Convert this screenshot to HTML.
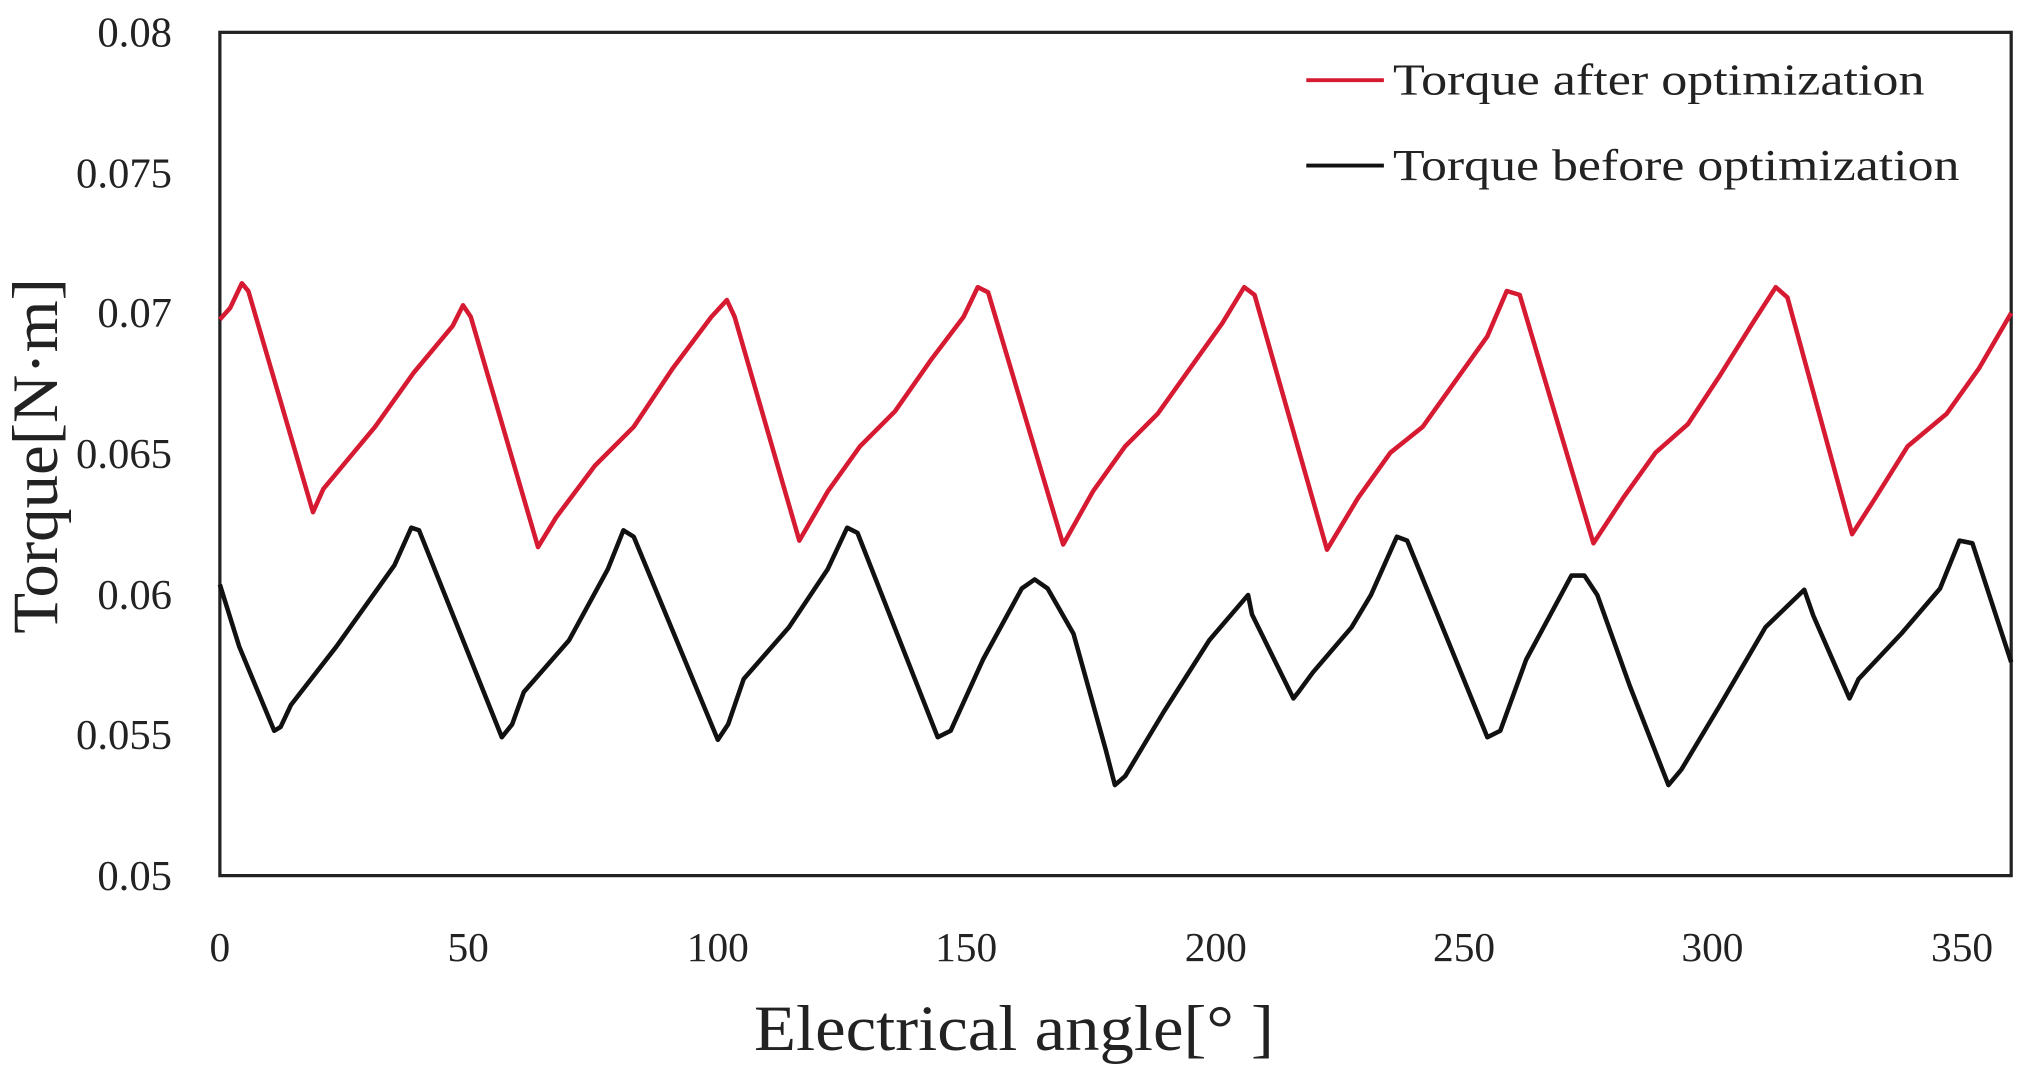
<!DOCTYPE html>
<html><head><meta charset="utf-8"><style>
html,body{margin:0;padding:0;background:#fff;}
svg{display:block;}
text{font-family:"Liberation Serif",serif;fill:#222;}
</style></head><body>
<svg width="2028" height="1090" viewBox="0 0 1568 842.75" preserveAspectRatio="none">
<rect x="170" y="25" width="1385" height="652" fill="none" stroke="#222" stroke-width="2.5"/>
<g font-size="33" text-anchor="end">
<text x="133" y="36">0.08</text>
<text x="133" y="145">0.075</text>
<text x="133" y="253">0.07</text>
<text x="133" y="362">0.065</text>
<text x="133" y="471">0.06</text>
<text x="133" y="579">0.055</text>
<text x="133" y="688">0.05</text>
</g>
<g font-size="32" text-anchor="middle">
<text x="170" y="743">0</text>
<text x="362" y="743">50</text>
<text x="555" y="743">100</text>
<text x="747" y="743">150</text>
<text x="940" y="743">200</text>
<text x="1132" y="743">250</text>
<text x="1324" y="743">300</text>
<text x="1517" y="743">350</text>
</g>
<text x="583" y="812" font-size="50" textLength="402" lengthAdjust="spacingAndGlyphs">Electrical angle[°  ]</text>
<text transform="translate(44,490) rotate(-90)" font-size="50" textLength="275" lengthAdjust="spacingAndGlyphs">Torque[N·m]</text>
<line x1="1010" y1="62" x2="1070" y2="62" stroke="#d61a32" stroke-width="3"/>
<text x="1077" y="73" font-size="34" textLength="411" lengthAdjust="spacingAndGlyphs">Torque after optimization</text>
<line x1="1010" y1="128" x2="1070" y2="128" stroke="#111" stroke-width="3"/>
<text x="1077" y="139" font-size="34" textLength="438" lengthAdjust="spacingAndGlyphs">Torque before optimization</text>
<polyline fill="none" stroke="#d61a32" stroke-width="3.5" stroke-linejoin="round" points="170,247 178,238 187,219 192,225 242,396 250,378 290,330 320,288 350,252 358,236 364,245 416,423 430,400 460,360 490,330 520,285 550,245 562,232 568,245 618,418 640,380 665,345 692,318 720,278 745,245 756,222 764,226 822,421 845,380 870,345 895,320 920,285 945,250 962,222 970,228 1026,425 1050,385 1075,350 1100,330 1125,295 1150,260 1165,225 1175,228 1232,420 1255,385 1280,350 1305,328 1330,290 1355,250 1373,222 1382,230 1432,413 1450,385 1475,345 1505,320 1530,285 1555,242"/>
<polyline fill="none" stroke="#111" stroke-width="3.5" stroke-linejoin="round" points="170,452 185,500 212,565 217,562 225,545 260,500 305,437 318,408 324,410 388,570 396,560 405,535 440,495 470,440 482,410 490,415 555,572 563,560 575,525 610,485 640,440 655,408 663,412 725,570 735,565 760,510 790,455 800,448 810,455 830,490 855,580 862,607 870,600 900,550 935,495 965,460 968,475 1000,540 1004,535 1015,520 1045,485 1060,460 1080,415 1088,418 1150,570 1160,565 1180,510 1215,445 1225,445 1235,460 1260,530 1290,607 1300,595 1330,545 1365,485 1395,456 1402,476 1430,540 1437,525 1470,490 1500,455 1515,418 1525,420 1555,512"/>
</svg>
</body></html>
